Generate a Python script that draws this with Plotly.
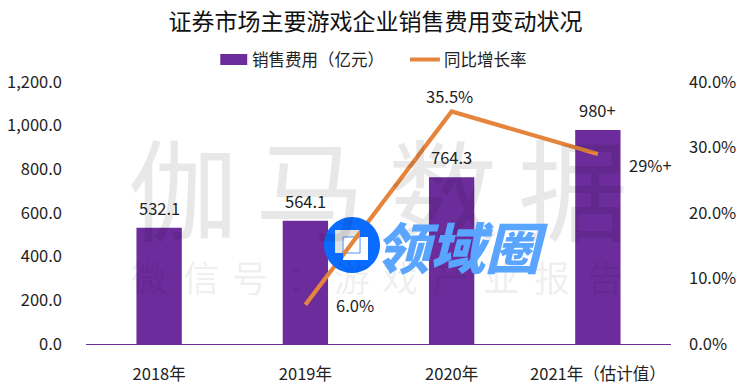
import plotly.graph_objects as go

categories = ["2018年", "2019年", "2020年", "2021年（估计值）"]
sales = [532.1, 564.1, 764.3, 980]
growth = [None, 6.0, 35.5, 29]
sales_labels = ["532.1", "564.1", "764.3", "980+"]
growth_labels = [None, "6.0%", "35.5%", "29%+"]
growth_shift = [None, (50, 0), (-2, 15), (53, -11)]
left_ticks = [0, 200, 400, 600, 800, 1000, 1200]
left_text = ["0.0", "200.0", "400.0", "600.0", "800.0", "1,000.0", "1,200.0"]
right_ticks = [0, 10, 20, 30, 40]
right_text = ["0.0%", "10.0%", "20.0%", "30.0%", "40.0%"]
title = "证券市场主要游戏企业销售费用变动状况"
legend_bar = "销售费用（亿元）"
legend_line = "同比增长率"
mark_big = [("伽", 183), ("马", 310), ("数", 443), ("据", 573)]
mark_small = [("微", 149), ("信", 201), ("号", 250), ("：", 305), ("游", 352), ("戏", 400), ("产", 450), ("业", 501), ("报", 552), ("告", 605)]

FONT = "Noto Sans CJK SC"
W, H = 750, 392
L, R, T, B = 85.5, 671.5, 82, 344
TXT = "#222222"
PURPLE = "#6C2C9C"
ORANGE = "#E5843C"


def px(v):
    return (v - L) / (R - L)


def py(v):
    return (B - v) / (B - T)


def text_at(x, y, text, size, color=TXT, anchor="center", **kw):
    return dict(x=px(x), y=py(y), text=text, showarrow=False, xref="paper", yref="paper",
                xanchor=anchor, yanchor="middle",
                font=dict(family=FONT, size=size, color=color, **kw))


def rect(x0, y0, x1, y1, fill, layer="below", line=None):
    return dict(type="rect", xref="paper", yref="paper", x0=px(x0), x1=px(x1), y0=py(y1), y1=py(y0),
                fillcolor=fill, line=line or dict(width=0), layer=layer)


def ring_path(cx, cy, r, hole):
    k = 0.5523 * r
    p = lambda x, y: f"{px(x):.5f},{py(y):.5f}"
    d = f"M{p(cx, cy - r)}"
    d += f" C{p(cx + k, cy - r)} {p(cx + r, cy - k)} {p(cx + r, cy)}"
    d += f" C{p(cx + r, cy + k)} {p(cx + k, cy + r)} {p(cx, cy + r)}"
    d += f" C{p(cx - k, cy + r)} {p(cx - r, cy + k)} {p(cx - r, cy)}"
    d += f" C{p(cx - r, cy - k)} {p(cx - k, cy - r)} {p(cx, cy - r)} Z"
    d += " M" + " L".join(p(x, y) for x, y in hole) + " Z"
    return d


fig = go.Figure()
fig.add_bar(x=categories, y=sales, name=legend_bar, width=0.31,
            marker=dict(color=PURPLE, line=dict(width=0)))
fig.add_scatter(x=categories, y=growth, name=legend_line, mode="lines", yaxis="y2",
                line=dict(color=ORANGE, width=4.2))

ann = []
for ch, x in mark_big:
    ann.append(text_at(x, 185, ch, 110, "rgba(0,0,0,0.09)"))
for ch, x in mark_small:
    ann.append(text_at(x, 276, ch, 36, "rgba(0,0,0,0.08)"))
for c, v, t in zip(categories, sales, sales_labels):
    ann.append(dict(x=c, y=v, text=t, showarrow=False, yshift=20, xref="x", yref="y",
                    xanchor="center", yanchor="middle",
                    font=dict(family=FONT, size=16.5, color=TXT)))
for c, v, t, s in zip(categories, growth, growth_labels, growth_shift):
    if v is None:
        continue
    ann.append(dict(x=c, y=v, text=t, showarrow=False, xshift=s[0], yshift=s[1], xref="x", yref="y2",
                    xanchor="center", yanchor="middle",
                    font=dict(family=FONT, size=16.5, color=TXT)))
ann.append(text_at(462, 245, "领域圈", 55, "#5AA5FF", weight=900, style="italic"))
ann.append(text_at(250, 59, legend_bar, 16.5, anchor="left"))
ann.append(text_at(442, 59, legend_line, 16.5, anchor="left"))

hole = [(368, 260), (368, 237), (360, 237), (360, 230), (335, 230), (335, 253), (343, 253), (343, 260)]
shapes = [
    rect(335, 230, 360, 253, "#E2E2E2"),
    rect(343, 237, 368, 260, "#FFFFFF"),
    rect(343, 237, 360, 253, "rgba(0,0,0,0)", line=dict(width=1, color="#4A90FF")),
    dict(type="path", xref="paper", yref="paper", path=ring_path(352, 245, 28, hole),
         fillcolor="#0A6CFF", line=dict(width=0), layer="above"),
    rect(220, 54, 247, 65, PURPLE, layer="above"),
    dict(type="line", xref="paper", yref="paper", x0=px(410), x1=px(440), y0=py(59.5), y1=py(59.5),
         line=dict(color=ORANGE, width=4), layer="above"),
]

fig.update_layout(
    width=W, height=H, paper_bgcolor="white", plot_bgcolor="white",
    margin=dict(l=L, r=W - R, t=T, b=H - B, autoexpand=False), autosize=False,
    font=dict(family=FONT, color=TXT, size=16),
    title=dict(text=title, x=375.5 / W, xanchor="center", y=1 - 22 / H, yanchor="middle",
               font=dict(family=FONT, size=23, color="#111111")),
    showlegend=False,
    xaxis=dict(range=[-0.5, 3.5], showline=True, linecolor=PURPLE, linewidth=1, ticks="", showgrid=False, automargin=False,
               ticklabelstandoff=15, tickfont=dict(family=FONT, size=16.5, color=TXT)),
    yaxis=dict(range=[0, 1200], tickvals=left_ticks, ticktext=left_text, showgrid=False, automargin=False,
               zeroline=False, ticks="", ticklabelstandoff=23, tickfont=dict(family=FONT, size=16.5, color=TXT)),
    yaxis2=dict(range=[0, 40], tickvals=right_ticks, ticktext=right_text, overlaying="y", side="right",
                showgrid=False, zeroline=False, ticks="", ticklabelstandoff=17, automargin=False,
                tickfont=dict(family=FONT, size=16.5, color=TXT)),
    annotations=ann, shapes=shapes,
)
fig.write_html("out.html", config=dict(displayModeBar=False),
               post_script="document.body.style.margin='0';document.documentElement.style.overflow='hidden';")
